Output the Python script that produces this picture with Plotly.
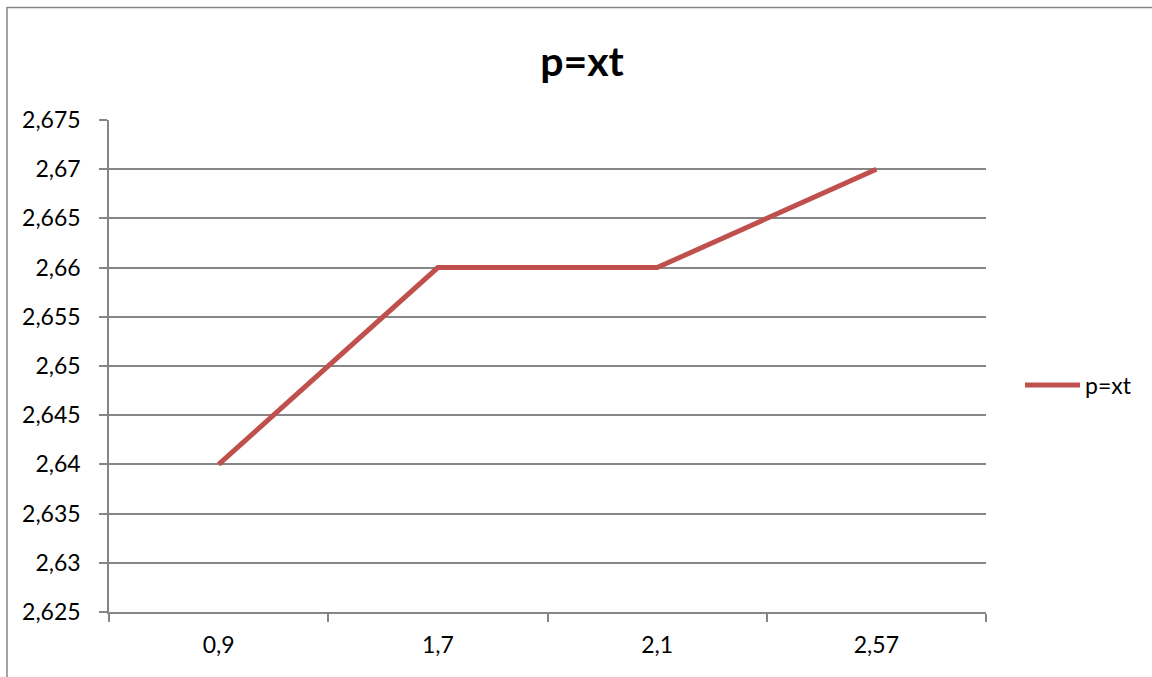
import plotly.graph_objects as go

# Series data
categories = ["0,9", "1,7", "2,1", "2,57"]
p_values = [2.64, 2.66, 2.66, 2.67]
series_name = "p=xt"
chart_title = "p=xt"

# Y axis ticks
y_tickvals = [2.625, 2.63, 2.635, 2.64, 2.645, 2.65, 2.655, 2.66, 2.665, 2.67, 2.675]
y_ticktext = ["2,625", "2,63", "2,635", "2,64", "2,645", "2,65", "2,655", "2,66", "2,665", "2,67", "2,675"]

FONT = "Lato, 'Open Sans', sans-serif"
LINE_RED = "#C0504D"
AXIS_GREY = "#868686"
TICK_SIZE = 23

W, H = 1152, 677
L, R, T, B = 109, 166, 120, 65
plot_w = W - L - R
plot_h = H - T - B

x_pos = list(range(len(categories)))

fig = go.Figure()
fig.add_trace(go.Scatter(
    x=x_pos, y=p_values, mode="lines", name=series_name,
    line=dict(color=LINE_RED, width=5),
))

def px_x(p):
    return (p - L) / plot_w

def px_y(p):
    return (H - B - p) / plot_h

fig.update_layout(
    width=W, height=H,
    margin=dict(l=L, r=R, t=T, b=B, autoexpand=False),
    paper_bgcolor="white", plot_bgcolor="white",
    font=dict(family=FONT, size=TICK_SIZE, color="black"),
    title=dict(text="<b>" + chart_title + "</b>", x=582 / W, xanchor="center",
               y=1 - 62 / H, yanchor="middle", yref="container",
               font=dict(family=FONT, size=41, color="black")),
    showlegend=True,
    legend=dict(x=px_x(1020), xanchor="left", y=px_y(385), yanchor="middle",
                font=dict(family=FONT, size=TICK_SIZE), itemwidth=55,
                bgcolor="rgba(0,0,0,0)"),
    xaxis=dict(
        range=[-0.5, len(categories) - 0.5],
        tickvals=x_pos, ticktext=categories,
        ticks="", showgrid=False, zeroline=False,
        showline=True, linecolor=AXIS_GREY, linewidth=1.5,
        tickfont=dict(family=FONT, size=TICK_SIZE),
        ticklabelstandoff=12,
        minor=dict(ticks="outside", tick0=-0.5, dtick=1, ticklen=8,
                   tickcolor=AXIS_GREY, tickwidth=1.5, showgrid=False),
        fixedrange=True,
    ),
    yaxis=dict(
        range=[2.625, 2.675],
        tickvals=y_tickvals, ticktext=y_ticktext,
        ticks="outside", ticklen=8, tickcolor=AXIS_GREY, tickwidth=1.5,
        showgrid=True, gridcolor=AXIS_GREY, gridwidth=1.5,
        zeroline=False,
        showline=True, linecolor=AXIS_GREY, linewidth=1.5,
        tickfont=dict(family=FONT, size=TICK_SIZE),
        ticklabelstandoff=14,
        fixedrange=True,
    ),
    shapes=[
        dict(type="line", xref="paper", yref="paper",
             x0=px_x(7), x1=px_x(7), y0=px_y(7), y1=px_y(H + 5),
             line=dict(color=AXIS_GREY, width=1.5)),
        dict(type="line", xref="paper", yref="paper",
             x0=px_x(7), x1=px_x(W + 5), y0=px_y(7.5), y1=px_y(7.5),
             line=dict(color=AXIS_GREY, width=1.5)),
    ],
)

fig.write_html("out.html", config={"displayModeBar": False})
